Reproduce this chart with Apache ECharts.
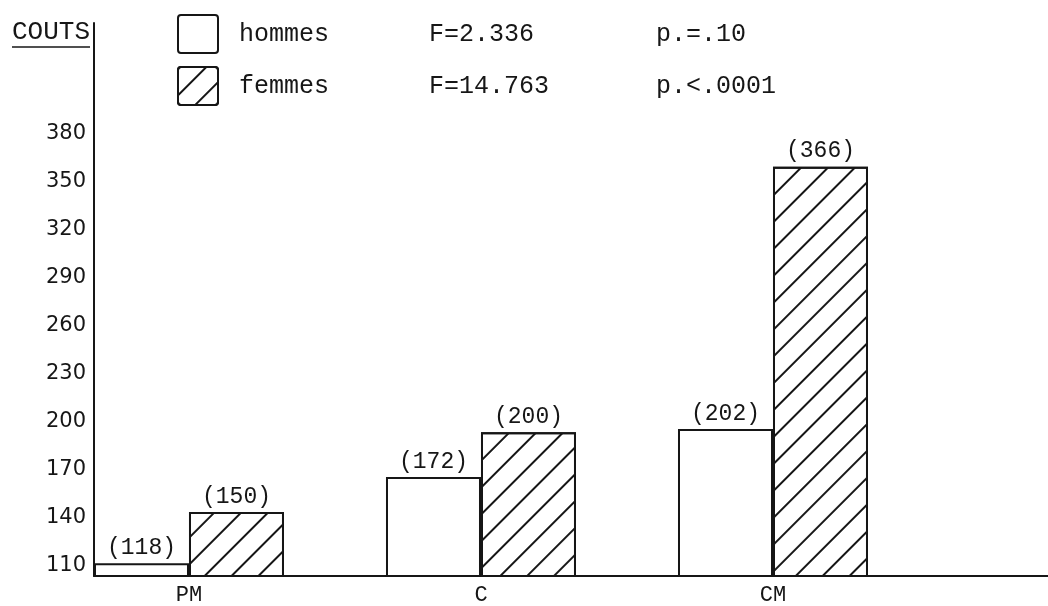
<!DOCTYPE html>
<html><head><meta charset="utf-8">
<script src="https://cdn.jsdelivr.net/npm/echarts@6/dist/echarts.min.js"></script>
<style>html,body{margin:0;padding:0;background:#fff}#c{width:1048px;height:606px}</style>
</head><body><div id="c"></div>
<script>
const categories = ['PM', 'C', 'CM'];
const hommes = [118, 172, 202];
const femmes = [150, 200, 366];
const seriesNames = ['hommes', 'femmes'];
const fStats = ['F=2.336', 'F=14.763'];
const pStats = ['p.=.10', 'p.<.0001'];
const yTicks = [110, 140, 170, 200, 230, 260, 290, 320, 350, 380];
const yTitle = 'COUTS';

const INK = '#161616';
const MONO = '"Liberation Mono", "DejaVu Sans Mono", monospace';

const chart = echarts.init(document.getElementById('c'), null, {renderer: 'canvas'});

const hatch = {
  symbol: 'rect', symbolSize: 1,
  dashArrayX: [1, 0], dashArrayY: [2, 17],
  rotation: -Math.PI / 4, color: INK
};

function statRow(name) {
  const i = seriesNames.indexOf(name);
  return '{n|' + name + '}{f|' + fStats[i] + '}{p|' + pStats[i] + '}';
}

const boxIcon = 'path://M3,0 H37 Q40,0 40,3 V35 Q40,38 37,38 H3 Q0,38 0,35 V3 Q0,0 3,0 Z';

const option = {
  backgroundColor: '#fff',
  animation: false,
  grid: {left: 94, right: 0, top: 23, bottom: 30, containLabel: false},
  legend: {
    data: seriesNames, orient: 'vertical', left: 177, top: 14, padding: 0,
    itemWidth: 40, itemHeight: 38, itemGap: 12, icon: boxIcon,
    selectedMode: false,
    formatter: statRow,
    textStyle: {
      fontFamily: MONO, fontSize: 25, color: INK,
      rich: {
        n: {fontFamily: MONO, fontSize: 25, color: INK, width: 190, padding: [0, 0, 0, 16]},
        f: {fontFamily: MONO, fontSize: 25, color: INK, width: 227},
        p: {fontFamily: MONO, fontSize: 25, color: INK}
      }
    }
  },
  graphic: [{
    type: 'line', shape: {x1: 12, y1: 47, x2: 90, y2: 47},
    style: {stroke: INK, lineWidth: 1.5}
  }],
  xAxis: {
    type: 'value', min: -0.3253, max: 2.9418,
    axisLine: {show: true, onZero: false, lineStyle: {color: INK, width: 2}},
    axisTick: {show: false}, splitLine: {show: false},
    axisLabel: {
      customValues: [0, 1, 2],
      formatter: v => categories[Math.round(v)] || '',
      fontFamily: MONO, fontSize: 22, color: INK, margin: 8
    }
  },
  yAxis: {
    type: 'value', min: 110, max: 456,
    name: yTitle, nameLocation: 'end', nameGap: -9,
    nameTextStyle: {fontFamily: MONO, fontSize: 26, color: INK, align: 'right', verticalAlign: 'middle', padding: [0, 4, 0, 0]},
    axisLine: {show: true, onZero: false, lineStyle: {color: INK, width: 2}},
    axisTick: {show: false}, splitLine: {show: false},
    axisLabel: {
      customValues: yTicks,
      fontFamily: '"DejaVu Sans", sans-serif', fontSize: 21, color: INK,
      margin: 8, verticalAlign: 'bottom'
    }
  },
  series: [
    {
      name: seriesNames[0], type: 'bar', barWidth: 95, barGap: '0%',
      data: hommes.map((v, i) => [i, v]),
      itemStyle: {color: '#fff', borderColor: INK, borderWidth: 2},
      label: {show: true, position: 'top', distance: 4, formatter: p => '(' + p.value[1] + ')',
        fontFamily: MONO, fontSize: 23, color: INK}
    },
    {
      name: seriesNames[1], type: 'bar', barWidth: 95, barGap: '0%',
      data: femmes.map((v, i) => [i, v]),
      itemStyle: {color: '#fff', borderColor: INK, borderWidth: 2, decal: hatch},
      label: {show: true, position: 'top', distance: 4, formatter: p => '(' + p.value[1] + ')',
        fontFamily: MONO, fontSize: 23, color: INK}
    }
  ]
};
chart.setOption(option);
</script>
</body></html>
